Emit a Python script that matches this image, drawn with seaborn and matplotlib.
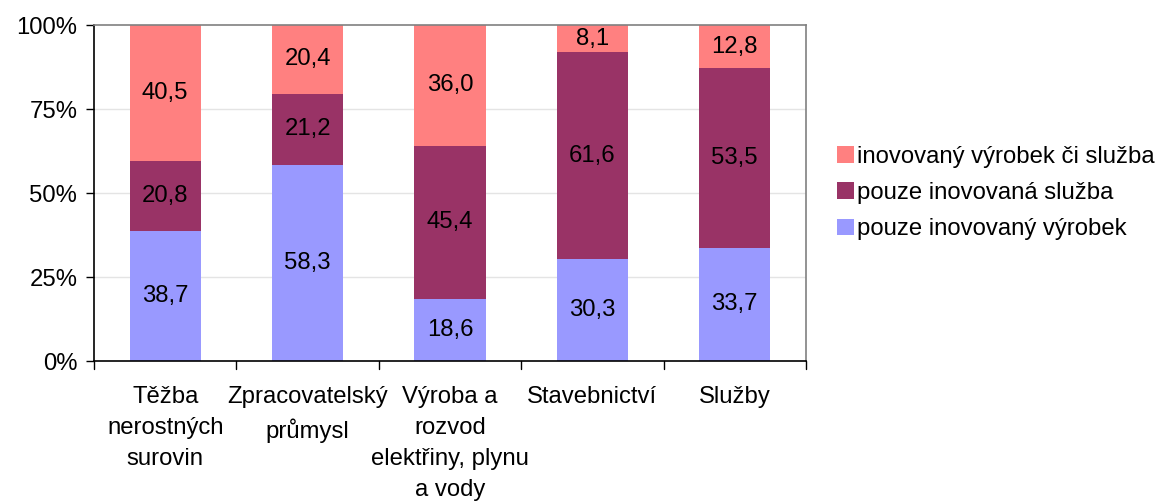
import matplotlib
matplotlib.use("Agg")
import matplotlib.pyplot as plt
import seaborn as sns
import numpy as np
import pandas as pd
from matplotlib.patches import Patch

categories = ["Těžba\nnerostných\nsurovin", "Zpracovatelský\nprůmysl",
              "Výroba a\nrozvod\nelektřiny, plynu\na vody", "Stavebnictví", "Služby"]
vyrobek = [38.7, 58.3, 18.6, 30.3, 33.7]
sluzba = [20.8, 21.2, 45.4, 61.6, 53.5]
oboji = [40.5, 20.4, 36.0, 8.1, 12.8]
series_names = ["pouze inovovaný výrobek", "pouze inovovaná služba", "inovovaný výrobek či služba"]
colors = ["#9999FF", "#993366", "#FF8080"]

sns.set_theme(style="white")
plt.rcParams['font.family'] = ['Liberation Sans', 'DejaVu Sans']
plt.rcParams['text.color'] = 'black'
plt.rcParams['xtick.color'] = 'black'
plt.rcParams['ytick.color'] = 'black'
plt.rcParams['xtick.labelcolor'] = 'black'
plt.rcParams['ytick.labelcolor'] = 'black'

vals = np.array([vyrobek, sluzba, oboji])
totals = vals.sum(axis=0)
pct = vals / totals * 100
cum = np.cumsum(pct, axis=0)

fig = plt.figure(figsize=(11.57, 5.03), dpi=100)
ax = fig.add_axes([94/1157, 1-361/503, (806-94)/1157, (361-25)/503])

ax.set_axisbelow(True)
for y in [25, 50, 75]:
    ax.axhline(y, color="#E4E4E4", lw=1, zorder=0)

for i in [2, 1, 0]:
    df = pd.DataFrame({"cat": categories, "val": cum[i]})
    sns.barplot(data=df, x="cat", y="val", color=colors[i], saturation=1,
                width=0.5, ax=ax, zorder=2, edgecolor="none", linewidth=0)

fs = 17.2
bottoms = np.vstack([np.zeros(5), cum[:-1]])
for i in range(3):
    for j in range(5):
        mid = bottoms[i, j] + pct[i, j] / 2
        ax.text(j, mid, f"{vals[i, j]:.1f}".replace(".", ","), ha="center", va="center",
                fontsize=fs, color="black", zorder=3)

ax.set_xlim(-0.5, 4.5)
ax.set_ylim(0, 100)
ax.set_yticks([0, 25, 50, 75, 100])
ax.set_yticklabels(["0%", "25%", "50%", "75%", "100%"], fontsize=fs, color="black")
ax.set_xticks(np.arange(5))
ax.set_xticklabels(categories, fontsize=fs, linespacing=1.52, color="black")
ax.tick_params(axis="x", length=0, pad=18)
ax.tick_params(axis="y", length=6, width=1, color="black", direction="out", pad=6, left=True)
for xb in np.arange(-0.5, 5, 1):
    ax.plot([xb, xb], [0, -2.5], color="black", lw=1, clip_on=False, zorder=5)
ax.set_xlabel("")
ax.set_ylabel("")

for s in ["left", "bottom"]:
    ax.spines[s].set_color("black")
    ax.spines[s].set_linewidth(1.2)
for s in ["top", "right"]:
    ax.spines[s].set_color("#808080")
    ax.spines[s].set_linewidth(1.2)
    ax.spines[s].set_visible(True)

handles = [Patch(facecolor=colors[k], edgecolor="none") for k in [2, 1, 0]]
labels = [series_names[k] for k in [2, 1, 0]]
leg = fig.legend(handles, labels, loc="center left", bbox_to_anchor=(837/1157, 1-193/503),
                 frameon=False, fontsize=fs, handlelength=0.7, handleheight=0.7,
                 handletextpad=0.15, labelspacing=0.6, borderaxespad=0, borderpad=0)
for t in leg.get_texts():
    t.set_color("black")

fig.savefig("out.png", dpi=100)
